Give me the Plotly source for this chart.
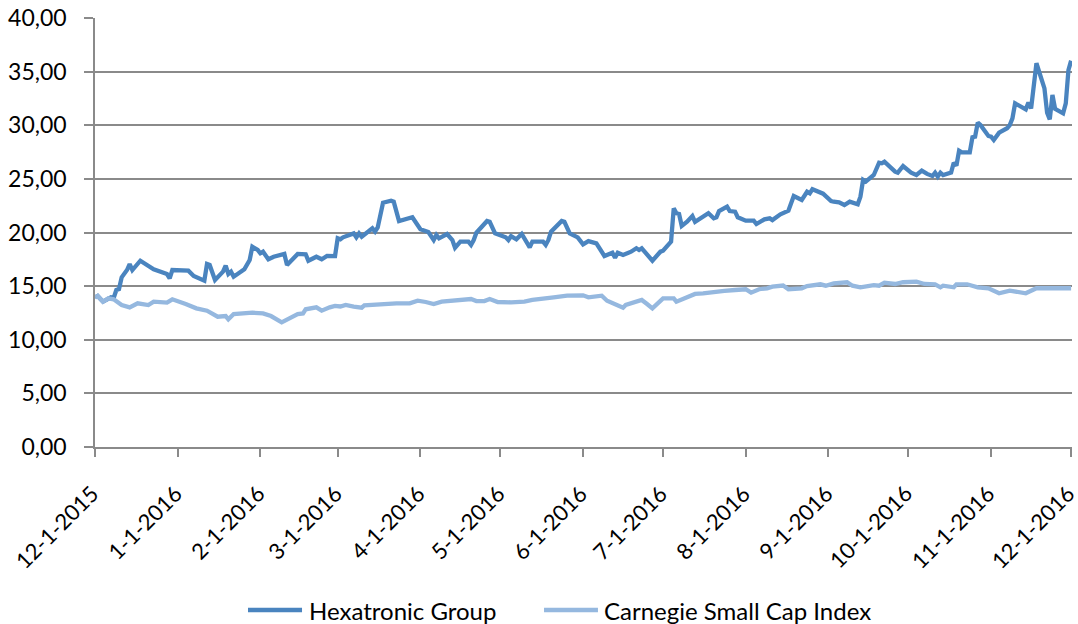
import plotly.graph_objects as go

# ---------------- data ----------------
hex_dates = [
    "2015-12-01", "2015-12-02", "2015-12-04", "2015-12-07", "2015-12-08", "2015-12-09", "2015-12-10",
    "2015-12-11", "2015-12-13", "2015-12-14", "2015-12-15", "2015-12-18", "2015-12-23", "2015-12-28",
    "2015-12-29", "2015-12-30", "2016-01-05", "2016-01-07", "2016-01-11", "2016-01-12", "2016-01-13",
    "2016-01-15", "2016-01-18", "2016-01-19", "2016-01-20", "2016-01-21", "2016-01-22", "2016-01-26",
    "2016-01-28", "2016-01-29", "2016-01-31", "2016-02-01", "2016-02-02", "2016-02-04", "2016-02-06",
    "2016-02-09", "2016-02-10", "2016-02-11", "2016-02-15", "2016-02-18", "2016-02-19", "2016-02-22",
    "2016-02-24", "2016-02-26", "2016-02-29", "2016-03-01", "2016-03-02", "2016-03-03", "2016-03-07",
    "2016-03-08", "2016-03-09", "2016-03-10", "2016-03-14", "2016-03-15", "2016-03-16", "2016-03-18",
    "2016-03-21", "2016-03-22", "2016-03-24", "2016-03-29", "2016-04-01", "2016-04-04", "2016-04-06",
    "2016-04-07", "2016-04-08", "2016-04-11", "2016-04-13", "2016-04-14", "2016-04-16", "2016-04-19",
    "2016-04-20", "2016-04-21", "2016-04-22", "2016-04-26", "2016-04-27", "2016-04-29", "2016-05-03",
    "2016-05-04", "2016-05-05", "2016-05-07", "2016-05-09", "2016-05-12", "2016-05-13", "2016-05-17",
    "2016-05-18", "2016-05-19", "2016-05-20", "2016-05-24", "2016-05-25", "2016-05-27", "2016-05-30",
    "2016-06-01", "2016-06-03", "2016-06-06", "2016-06-07", "2016-06-09", "2016-06-12", "2016-06-13",
    "2016-06-14", "2016-06-16", "2016-06-19", "2016-06-21", "2016-06-22", "2016-06-23", "2016-06-27",
    "2016-06-30", "2016-07-01", "2016-07-04", "2016-07-05", "2016-07-06", "2016-07-07", "2016-07-08",
    "2016-07-10", "2016-07-12", "2016-07-13", "2016-07-15", "2016-07-18", "2016-07-20", "2016-07-21",
    "2016-07-22", "2016-07-25", "2016-07-26", "2016-07-28", "2016-07-29", "2016-08-01", "2016-08-04",
    "2016-08-05", "2016-08-08", "2016-08-10", "2016-08-11", "2016-08-14", "2016-08-17", "2016-08-19",
    "2016-08-22", "2016-08-24", "2016-08-25", "2016-08-26", "2016-08-30", "2016-08-31", "2016-09-02",
    "2016-09-03", "2016-09-05", "2016-09-07", "2016-09-09", "2016-09-12", "2016-09-13", "2016-09-14",
    "2016-09-15", "2016-09-18", "2016-09-19", "2016-09-20", "2016-09-21", "2016-09-22", "2016-09-26",
    "2016-09-27", "2016-09-29", "2016-10-02", "2016-10-04", "2016-10-05", "2016-10-06", "2016-10-08",
    "2016-10-10", "2016-10-11", "2016-10-12", "2016-10-13", "2016-10-14", "2016-10-17", "2016-10-18",
    "2016-10-19", "2016-10-20", "2016-10-21", "2016-10-24", "2016-10-25", "2016-10-26", "2016-10-27",
    "2016-10-28", "2016-10-31", "2016-11-01", "2016-11-02", "2016-11-04", "2016-11-07", "2016-11-08",
    "2016-11-09", "2016-11-10", "2016-11-14", "2016-11-15", "2016-11-16", "2016-11-18", "2016-11-21",
    "2016-11-22", "2016-11-23", "2016-11-24", "2016-11-25", "2016-11-28", "2016-11-29", "2016-11-30",
    "2016-12-01",
]
hex_values = [
    13.95, 14.08, 13.55, 13.96, 13.90, 14.64, 14.73,
    15.82, 16.50, 17.06, 16.50, 17.37, 16.57, 16.13,
    15.73, 16.50, 16.44, 15.94, 15.51, 17.06, 16.97,
    15.57, 16.35, 16.91, 16.13, 16.35, 15.88, 16.57,
    17.44, 18.68, 18.37, 18.06, 18.21, 17.50, 17.74,
    18.00, 18.00, 16.97, 18.00, 17.97, 17.37, 17.74,
    17.50, 17.81, 17.80, 19.46, 19.37, 19.55, 19.92,
    19.55, 19.92, 19.61, 20.39, 20.08, 20.48, 22.78,
    22.97, 22.87, 21.07, 21.42, 20.30, 20.05, 19.30,
    19.77, 19.46, 19.86, 19.30, 18.58, 19.15, 19.15,
    18.84, 19.30, 19.98, 21.07, 21.00, 19.92, 19.55,
    19.30, 19.67, 19.37, 19.86, 18.62, 19.15, 19.15,
    18.84, 19.30, 20.08, 21.07, 21.00, 19.92, 19.55,
    18.90, 19.20, 18.99, 18.53, 17.81, 18.12, 17.65,
    18.12, 17.90, 18.21, 18.53, 18.37, 18.53, 17.37,
    18.21, 18.30, 19.15, 22.25, 21.79, 21.72, 20.61,
    21.00, 21.54, 21.00, 21.32, 21.79, 21.32, 21.42,
    22.00, 22.41, 22.00, 21.94, 21.42, 21.10, 21.10,
    20.79, 21.23, 21.32, 21.16, 21.70, 22.03, 23.40,
    23.03, 23.80, 23.65, 24.03, 23.62, 23.40, 22.94,
    22.87, 22.81, 22.56, 22.87, 22.63, 23.34, 24.90,
    24.74, 25.36, 25.83, 26.51, 26.45, 26.60, 25.67,
    25.58, 26.20, 25.58, 25.36, 25.52, 25.77, 25.46,
    25.27, 25.58, 25.21, 25.58, 25.36, 25.58, 26.51,
    26.23, 27.63, 27.48, 27.48, 28.88, 28.93, 30.24,
    30.02, 29.00, 28.93, 28.62, 29.31, 29.72, 30.02,
    30.64, 32.04, 31.48, 32.13, 31.57, 35.78, 33.44,
    31.17, 30.55, 32.82, 31.52, 31.11, 32.04, 35.15,
    36.02,
]

csc_dates = [
    "2015-12-01", "2015-12-02", "2015-12-04", "2015-12-06", "2015-12-08", "2015-12-11", "2015-12-14",
    "2015-12-17", "2015-12-21", "2015-12-23", "2015-12-28", "2015-12-30", "2016-01-04", "2016-01-08",
    "2016-01-12", "2016-01-16", "2016-01-19", "2016-01-20", "2016-01-22", "2016-01-26", "2016-01-29",
    "2016-02-02", "2016-02-05", "2016-02-09", "2016-02-12", "2016-02-15", "2016-02-17", "2016-02-18",
    "2016-02-22", "2016-02-24", "2016-02-27", "2016-02-29", "2016-03-02", "2016-03-04", "2016-03-07",
    "2016-03-10", "2016-03-11", "2016-03-16", "2016-03-18", "2016-03-23", "2016-03-28", "2016-03-31",
    "2016-04-03", "2016-04-06", "2016-04-09", "2016-04-13", "2016-04-16", "2016-04-20", "2016-04-22",
    "2016-04-25", "2016-04-27", "2016-04-30", "2016-05-05", "2016-05-10", "2016-05-13", "2016-05-17",
    "2016-05-21", "2016-05-26", "2016-05-30", "2016-06-01", "2016-06-03", "2016-06-08", "2016-06-10",
    "2016-06-13", "2016-06-16", "2016-06-17", "2016-06-20", "2016-06-23", "2016-06-25", "2016-06-27",
    "2016-07-01", "2016-07-05", "2016-07-06", "2016-07-10", "2016-07-13", "2016-07-16", "2016-07-20",
    "2016-07-24", "2016-07-28", "2016-08-01", "2016-08-03", "2016-08-06", "2016-08-09", "2016-08-11",
    "2016-08-15", "2016-08-17", "2016-08-22", "2016-08-24", "2016-08-29", "2016-08-31", "2016-09-03",
    "2016-09-08", "2016-09-10", "2016-09-13", "2016-09-18", "2016-09-20", "2016-09-22", "2016-09-26",
    "2016-09-29", "2016-10-04", "2016-10-07", "2016-10-11", "2016-10-13", "2016-10-14", "2016-10-18",
    "2016-10-19", "2016-10-23", "2016-10-27", "2016-10-31", "2016-11-04", "2016-11-08", "2016-11-11",
    "2016-11-14", "2016-11-18", "2016-11-23", "2016-11-26", "2016-12-01",
]
csc_values = [
    13.96, 14.08, 13.55, 13.86, 13.77, 13.24, 13.02,
    13.40, 13.24, 13.55, 13.46, 13.77, 13.33, 12.93,
    12.71, 12.15, 12.21, 11.90, 12.40, 12.46, 12.52,
    12.46, 12.21, 11.62, 12.00, 12.40, 12.46, 12.84,
    13.02, 12.71, 13.02, 13.15, 13.10, 13.24, 13.08,
    12.99, 13.21, 13.30, 13.40, 13.40, 13.40, 13.64,
    13.52, 13.33, 13.55, 13.64, 13.61, 13.80, 13.61,
    13.61, 13.80, 13.52, 13.49, 13.55, 13.71, 13.80,
    13.96, 14.11, 14.17, 14.14, 13.96, 14.11, 13.64,
    13.33, 12.99, 13.24, 13.46, 13.71, 13.33, 12.93,
    13.86, 13.86, 13.55, 14.02, 14.27, 14.33, 14.48,
    14.55, 14.64, 14.71, 14.39, 14.71, 14.80, 14.95,
    15.05, 14.71, 14.80, 15.01, 15.17, 15.04, 15.26,
    15.36, 15.04, 14.89, 15.10, 15.04, 15.32, 15.20,
    15.36, 15.42, 15.20, 15.17, 14.89, 15.04, 14.89,
    15.17, 15.17, 14.89, 14.80, 14.33, 14.58, 14.43,
    14.33, 14.80, 14.80, 14.89, 14.80,
]

tick_dates = [
    "2015-12-01", "2016-01-01", "2016-02-01", "2016-03-01", "2016-04-01", "2016-05-01", "2016-06-01",
    "2016-07-01", "2016-08-01", "2016-09-01", "2016-10-01", "2016-11-01", "2016-12-01",
]
tick_labels = [
    "12-1-2015", "1-1-2016", "2-1-2016", "3-1-2016", "4-1-2016", "5-1-2016", "6-1-2016",
    "7-1-2016", "8-1-2016", "9-1-2016", "10-1-2016", "11-1-2016", "12-1-2016",
]
y_ticks = [0, 5, 10, 15, 20, 25, 30, 35, 40]

series_names = ["Hexatronic Group", "Carnegie Small Cap Index"]
series_colors = ["#4a84bf", "#95b8df"]

# ---------------- figure ----------------
FONT = "Lato, Calibri, Carlito, sans-serif"
GRID = "#8a8a8a"
LW = 4.3

fig = go.Figure()
fig.add_trace(go.Scatter(
    x=hex_dates, y=hex_values, mode="lines", name=series_names[0],
    line=dict(color=series_colors[0], width=LW), showlegend=False,
))
fig.add_trace(go.Scatter(
    x=csc_dates, y=csc_values, mode="lines", name=series_names[1],
    line=dict(color=series_colors[1], width=LW), showlegend=False,
))

# rotated month labels under the x axis (as text anchored at each tick date)
for d, lab in zip(tick_dates, tick_labels):
    fig.add_annotation(text=lab, x=d, xref="x", y=-0.070, yref="paper",
                       xanchor="right", yanchor="top", textangle=-45,
                       xshift=12, showarrow=False,
                       font=dict(family=FONT, size=22, color="#000000"))

# custom legend (line sample + label) below the plot, in paper coordinates
legend_items = [
    (series_names[0], series_colors[0], 0.1566, 0.2119, 0.2170),
    (series_names[1], series_colors[1], 0.4596, 0.5148, 0.5189),
]
LEG_Y = -0.3800
for name, color, x0, x1, xt in legend_items:
    fig.add_shape(type="line", xref="paper", yref="paper",
                  x0=x0, x1=x1, y0=LEG_Y, y1=LEG_Y,
                  line=dict(color=color, width=LW))
    fig.add_annotation(text=name, xref="paper", yref="paper",
                       x=xt, y=LEG_Y - 0.001, xanchor="left", yanchor="middle",
                       showarrow=False,
                       font=dict(family=FONT, size=24, color="#000000"))

fig.update_layout(
    width=1078, height=624,
    margin=dict(l=95, r=6, t=18, b=177, autoexpand=False),
    paper_bgcolor="white", plot_bgcolor="white",
    separators=", ",
    font=dict(family=FONT, size=23, color="#000000"),
    showlegend=False,
)
fig.update_xaxes(
    type="date",
    range=["2015-12-01", "2016-12-01 08:00"],
    tickmode="array", tickvals=tick_dates, ticktext=tick_labels,
    showticklabels=False,
    ticks="outside", ticklen=8, tickcolor=GRID, tickwidth=1.5,
    showline=True, linecolor=GRID, linewidth=1.5,
    showgrid=False, zeroline=False, automargin=False,
)
fig.update_yaxes(
    range=[0, 40],
    tickmode="array", tickvals=y_ticks, tickformat=".2f",
    ticks="outside", ticklen=9, tickcolor=GRID, tickwidth=1.5,
    showline=True, linecolor=GRID, linewidth=1.5,
    showgrid=True, gridcolor=GRID, gridwidth=1.5,
    zeroline=False, automargin=False,
    ticklabelstandoff=13,
    tickfont=dict(family=FONT, size=23, color="#000000"),
)

fig.write_html(
    "out.html",
    config={"displayModeBar": False},
    post_script="document.body.style.margin='0';document.body.style.padding='0';"
                "document.body.style.overflow='hidden';",
)
